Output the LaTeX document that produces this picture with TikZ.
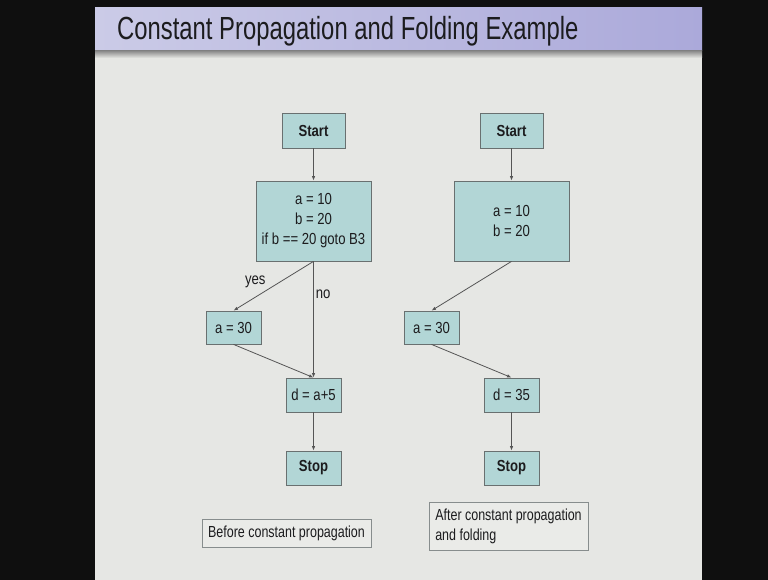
\documentclass[tikz,border=0pt]{standalone}
\usepackage{fontspec}
\setmainfont[FakeStretch=0.82]{Liberation Sans}
\newfontfamily\titlefont[FakeStretch=0.745]{Liberation Sans}
\newfontfamily\notefont[FakeStretch=0.78]{Liberation Sans}
\usetikzlibrary{arrows.meta}

\definecolor{slidebg}{RGB}{230,231,228}
\definecolor{bandleft}{RGB}{203,203,231}
\definecolor{bandright}{RGB}{171,169,218}
\definecolor{blockfill}{RGB}{178,214,214}
\definecolor{blockline}{RGB}{105,112,112}
\definecolor{edgeline}{RGB}{85,85,85}
\definecolor{inktext}{RGB}{28,28,30}

\begin{document}
\begin{tikzpicture}[x=1pt,y=1pt,yscale=-1,xscale=1,
  block/.style={draw=blockline,fill=blockfill,line width=0.8pt,inner sep=0pt,align=center,
    text=inktext,font=\fontsize{16}{20}\selectfont},
  note/.style={draw=blockline!80,fill=slidebg!85!white,line width=0.8pt,inner xsep=5pt,inner ysep=0pt,
    align=left,text=inktext,font=\notefont\fontsize{16}{20}\selectfont},
  flow/.style={draw=edgeline,line width=0.8pt,-{Latex[length=4.5pt,width=3.5pt]}},
  edgelabel/.style={text=inktext,font=\fontsize{16}{20}\selectfont,inner sep=2pt}]

%Background
\fill[black!94] (0,0) rectangle (768,580);
\path[use as bounding box] (0,0) rectangle (768,580);
\fill[slidebg] (95,8) rectangle (702,580);
%Title band
\shade[left color=bandleft,right color=bandright] (95,8) rectangle (702,51);
\shade[top color=black!45,bottom color=slidebg] (95,51) rectangle (702,58);
% Text Node
\draw (117,40) node [anchor=base west][inner sep=0pt][text=inktext] {\titlefont\fontsize{32}{36}\selectfont Constant Propagation and Folding Example};

%Before: blocks
\node[block,minimum width=63,minimum height=35] (startL) at (313.5,130.5) {\bfseries Start};
\node[block,minimum width=115,minimum height=80] (blockL) at (313.5,221) {a = 10\\b = 20\\if b == 20 goto B3};
\node[block,minimum width=55,minimum height=33] (assignL) at (233.5,327.5) {a = 30};
\node[block,minimum width=55,minimum height=34] (useL) at (313.5,395) {d = a+5};
\node[block,minimum width=55,minimum height=34] (stopL) at (313.5,468) {\bfseries Stop};
\node[note,minimum width=169,minimum height=28] (beforeNote) at (286.5,533) {Before constant propagation};

%Before: edges
\draw[flow] (startL) -- (blockL);
\draw[flow] (blockL.south) -- (assignL.north) node[edgelabel,pos=0.42,left=12pt] {yes};
\draw[flow] (blockL.south) -- (useL.north) node[edgelabel,pos=0.28,right] {no};
\draw[flow] (assignL.south) -- (useL.north);
\draw[flow] (useL) -- (stopL);

%After: blocks
\node[block,minimum width=63,minimum height=35] (startR) at (511.5,130.5) {\bfseries Start};
\node[block,minimum width=115,minimum height=80] (blockR) at (511.5,221) {a = 10\\b = 20};
\node[block,minimum width=55,minimum height=33] (assignR) at (431.5,327.5) {a = 30};
\node[block,minimum width=55,minimum height=34] (useR) at (511.5,395) {d = 35};
\node[block,minimum width=55,minimum height=34] (stopR) at (511.5,468) {\bfseries Stop};
\node[note,minimum width=159,minimum height=48] (afterNote) at (508.5,526) {After constant propagation\\and folding};

%After: edges
\draw[flow] (startR) -- (blockR);
\draw[flow] (blockR.south) -- (assignR.north);
\draw[flow] (assignR.south) -- (useR.north);
\draw[flow] (useR) -- (stopR);
\end{tikzpicture}
\end{document}
